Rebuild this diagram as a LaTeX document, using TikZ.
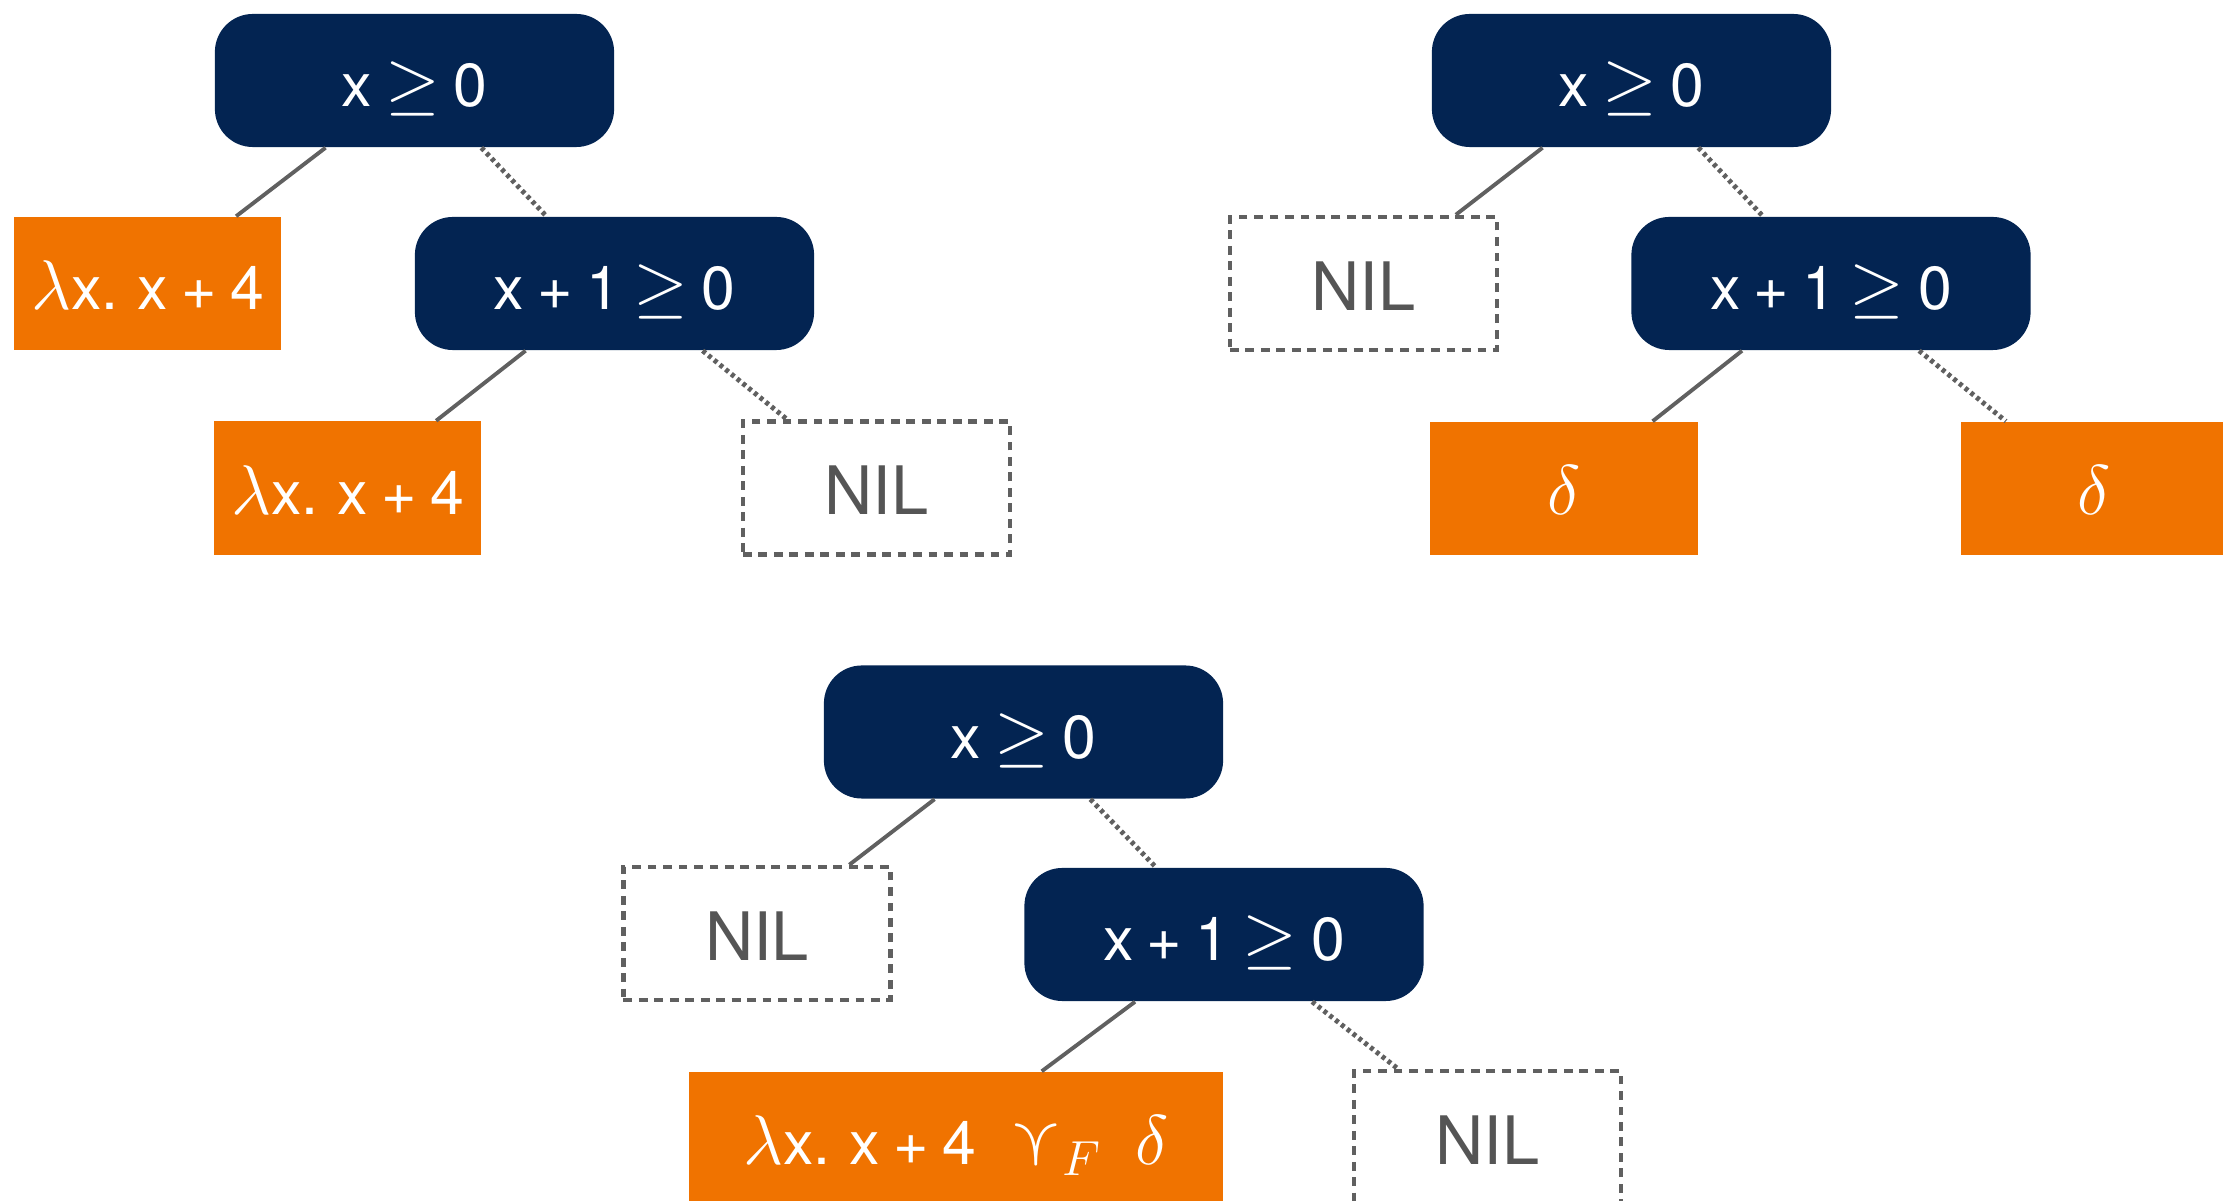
\RequirePackage{fix-cm}
\documentclass[tikz,border=0pt]{standalone}
\usepackage{amssymb}
\usepackage{fontspec}
\setmainfont{TeX Gyre Heros}
\usetikzlibrary{calc}
\definecolor{navy}{RGB}{3,36,82}
\definecolor{orng}{RGB}{240,115,0}
\definecolor{lgray}{RGB}{96,96,96}
\definecolor{nilgray}{RGB}{85,85,85}
\newcommand{\mybigmath}[1]{{\fontsize{20}{24}\selectfont$#1$}}
\newcommand{\gez}{x \mybigmath{\geq} 0}
\newcommand{\gep}{x + 1 \mybigmath{\geq} 0}
\newcommand{\lam}{\mybigmath{\lambda}x. x + 4}
\newcommand{\nodefont}{\fontsize{17.28}{21}\selectfont\spaceskip=0.22em\relax}
\begin{document}
\begin{tikzpicture}[x=0.01cm,y=-0.01cm,
  cond/.style={fill=navy, rounded corners=0.38cm, minimum width=3.99cm, minimum height=1.33cm, text=white, font=\nodefont, inner sep=0pt, text height=15pt, text depth=0pt},
  leaf/.style={fill=orng, minimum width=2.67cm, minimum height=1.33cm, text=white, font=\nodefont, inner sep=0pt, text height=15pt, text depth=0pt},
  nilbox/.style={draw=lgray, line width=1.25pt, dash pattern=on 2.5pt off 1.9pt, minimum width=2.67cm, minimum height=1.33cm, text=nilgray, font=\fontsize{19}{23}\selectfont, inner sep=0pt, text height=15.2pt, text depth=0pt},
  yes/.style={draw=lgray, line width=1.1pt},
  nob/.style={draw=lgray, line width=1.4pt, dash pattern=on 1.1pt off 1pt},
]
\useasboundingbox (0,0) rectangle (2223,1201);
\clip (0,0) rectangle (2223,1201);
% Tree 1
\node[cond] (r1) at (414.5,80.5) {\gez};
\node[leaf] (l1) at (147.5,283.5) {\lam};
\node[cond] (c1) at (614.5,283.5) {\gep};
\node[leaf] (l1b) at (347.5,488) {\lam};
\node[nilbox] (n1) at (876.5,488) {NIL};
\draw[yes] ($(r1.south west)!0.278!(r1.south east)$) -- ($(l1.north west)!0.83!(l1.north east)$);
\draw[nob] ($(r1.south west)!0.667!(r1.south east)$) -- ($(c1.north west)!0.33!(c1.north east)$);
\draw[yes] ($(c1.south west)!0.278!(c1.south east)$) -- ($(l1b.north west)!0.83!(l1b.north east)$);
\draw[nob] ($(c1.south west)!0.72!(c1.south east)$) -- ($(n1.north west)!0.17!(n1.north east)$);
% Tree 2
\node[cond] (r2) at (1631.5,80.5) {\gez};
\node[nilbox] (n2) at (1363.5,283.5) {NIL};
\node[cond] (c2) at (1831,283.5) {\gep};
\node[leaf] (d2a) at (1564,488.5) {\mybigmath{\delta}};
\node[leaf] (d2b) at (2094.5,488.5) {\mybigmath{\delta}};
\draw[yes] ($(r2.south west)!0.278!(r2.south east)$) -- ($(n2.north west)!0.84!(n2.north east)$);
\draw[nob] ($(r2.south west)!0.667!(r2.south east)$) -- ($(c2.north west)!0.33!(c2.north east)$);
\draw[yes] ($(c2.south west)!0.278!(c2.south east)$) -- ($(d2a.north west)!0.83!(d2a.north east)$);
\draw[nob] ($(c2.south west)!0.72!(c2.south east)$) -- ($(d2b.north west)!0.17!(d2b.north east)$);
% Tree 3
\node[cond] (r3) at (1023.5,732) {\gez};
\node[nilbox] (n3) at (757,933.5) {NIL};
\node[cond] (c3) at (1224,934.5) {\gep};
\node[leaf, minimum width=5.34cm] (o3) at (956,1138.5) {\lam\hspace{0.55em}\mybigmath{\curlyvee_F}\hspace{0.55em}\mybigmath{\delta}};
\node[nilbox] (n3b) at (1487.5,1137.5) {NIL};
\draw[yes] ($(r3.south west)!0.278!(r3.south east)$) -- ($(n3.north west)!0.84!(n3.north east)$);
\draw[nob] ($(r3.south west)!0.667!(r3.south east)$) -- ($(c3.north west)!0.33!(c3.north east)$);
\draw[yes] ($(c3.south west)!0.278!(c3.south east)$) -- ($(o3.north west)!0.66!(o3.north east)$);
\draw[nob] ($(c3.south west)!0.72!(c3.south east)$) -- ($(n3b.north west)!0.17!(n3b.north east)$);
\end{tikzpicture}
\end{document}
